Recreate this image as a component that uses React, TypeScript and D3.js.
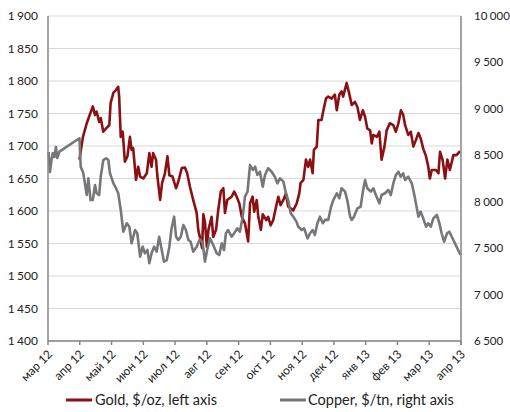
import React from "react";
import * as d3 from "d3";

// month labels (category ticks)
const months = ["мар 12","апр 12","май 12","июн 12","июл 12","авг 12","сен 12","окт 12","ноя 12","дек 12","янв 13","фев 13","мар 13","апр 13"];
const leftTicks = [1400,1450,1500,1550,1600,1650,1700,1750,1800,1850,1900];
const rightTicks = [6500,7000,7500,8000,8500,9000,9500,10000];

// [month position since Mar 2012, value]
const gold: [number, number][] = [
[0.99,1679],[1.10,1714],[1.22,1735],[1.41,1761],[1.48,1748],[1.53,1753],[1.61,1737],[1.66,1743],[1.74,1722],[1.83,1727],[1.93,1732],[1.97,1766],[2.06,1782],[2.14,1786],[2.21,1791],[2.24,1776],[2.29,1714],[2.35,1722],[2.42,1676],[2.50,1684],[2.58,1714],[2.63,1694],[2.68,1697],[2.77,1648],[2.84,1668],[2.90,1653],[3.00,1650],[3.11,1658],[3.19,1689],[3.26,1668],[3.31,1689],[3.40,1679],[3.44,1655],[3.53,1617],[3.59,1643],[3.68,1658],[3.76,1684],[3.82,1655],[3.92,1653],[4.03,1635],[4.10,1645],[4.21,1666],[4.31,1667],[4.38,1658],[4.47,1637],[4.57,1617],[4.68,1597],[4.73,1571],[4.78,1560],[4.85,1543],[4.89,1595],[4.94,1583],[5.00,1545],[5.05,1571],[5.15,1591],[5.20,1560],[5.29,1571],[5.36,1602],[5.44,1630],[5.52,1635],[5.57,1597],[5.64,1617],[5.78,1622],[5.86,1630],[5.94,1622],[6.02,1612],[6.10,1591],[6.20,1581],[6.30,1553],[6.36,1612],[6.44,1622],[6.49,1599],[6.57,1617],[6.62,1591],[6.70,1571],[6.76,1595],[6.87,1586],[6.93,1591],[7.01,1578],[7.09,1586],[7.18,1607],[7.25,1622],[7.32,1609],[7.41,1617],[7.49,1627],[7.56,1607],[7.64,1604],[7.72,1601],[7.83,1612],[7.91,1627],[7.95,1643],[8.04,1648],[8.12,1679],[8.19,1668],[8.25,1679],[8.33,1658],[8.37,1694],[8.46,1699],[8.51,1740],[8.61,1740],[8.67,1755],[8.75,1773],[8.82,1776],[8.93,1773],[9.03,1779],[9.09,1755],[9.17,1779],[9.24,1784],[9.29,1776],[9.40,1797],[9.48,1781],[9.56,1763],[9.66,1768],[9.74,1760],[9.82,1740],[9.91,1755],[9.98,1745],[10.05,1727],[10.14,1724],[10.19,1704],[10.24,1717],[10.35,1714],[10.43,1722],[10.50,1679],[10.59,1699],[10.66,1724],[10.76,1735],[10.87,1732],[10.95,1722],[11.03,1735],[11.11,1755],[11.18,1748],[11.24,1732],[11.34,1717],[11.42,1722],[11.50,1699],[11.58,1709],[11.66,1720],[11.73,1712],[11.81,1696],[11.90,1684],[11.97,1668],[12.02,1650],[12.08,1663],[12.21,1663],[12.29,1658],[12.34,1691],[12.42,1679],[12.50,1650],[12.57,1679],[12.65,1663],[12.76,1686],[12.86,1686],[12.97,1692]
];

const copper: [number, number][] = [
[0.02,8535],[0.06,8320],[0.11,8449],[0.15,8525],[0.20,8482],[0.25,8589],[0.29,8471],[0.36,8539],[0.99,8683],[1.03,8377],[1.11,8309],[1.22,8072],[1.27,8252],[1.34,8018],[1.41,8018],[1.48,8180],[1.53,8091],[1.61,8072],[1.66,8269],[1.74,8449],[1.83,8468],[1.90,8449],[1.95,8306],[2.06,8198],[2.14,8145],[2.21,8091],[2.29,7911],[2.37,7677],[2.48,7768],[2.56,7731],[2.63,7552],[2.74,7695],[2.81,7660],[2.90,7408],[2.98,7516],[3.05,7445],[3.13,7480],[3.19,7337],[3.26,7445],[3.34,7516],[3.42,7462],[3.50,7623],[3.58,7480],[3.65,7354],[3.74,7372],[3.82,7516],[3.89,7714],[3.97,7839],[4.03,7623],[4.10,7588],[4.18,7623],[4.26,7749],[4.34,7695],[4.42,7588],[4.49,7569],[4.57,7462],[4.68,7516],[4.78,7597],[4.87,7555],[4.94,7354],[5.01,7480],[5.10,7606],[5.20,7534],[5.31,7445],[5.39,7426],[5.47,7552],[5.54,7480],[5.60,7660],[5.67,7695],[5.78,7623],[5.86,7660],[5.96,7714],[6.04,7677],[6.13,7839],[6.20,8054],[6.28,8108],[6.36,8395],[6.45,8342],[6.52,8377],[6.59,8288],[6.67,8323],[6.76,8162],[6.83,8288],[6.93,8360],[7.04,8323],[7.14,8269],[7.22,8198],[7.30,8252],[7.41,8216],[7.49,8091],[7.56,8018],[7.64,7875],[7.72,7839],[7.82,7785],[7.88,7731],[7.99,7695],[8.06,7714],[8.17,7606],[8.25,7660],[8.33,7695],[8.40,7642],[8.48,7768],[8.56,7839],[8.65,7768],[8.72,7804],[8.82,7804],[8.91,7946],[8.98,8018],[9.09,8091],[9.17,8037],[9.24,8145],[9.35,8108],[9.42,8018],[9.51,7839],[9.56,7804],[9.63,7839],[9.74,7929],[9.84,7946],[9.92,8126],[9.98,8234],[10.05,8145],[10.16,8108],[10.24,8145],[10.32,8072],[10.43,7983],[10.50,8072],[10.61,8091],[10.71,8126],[10.79,8072],[10.87,8198],[10.95,8288],[11.03,8323],[11.10,8269],[11.18,8306],[11.24,8234],[11.34,8269],[11.45,8198],[11.52,8091],[11.58,7983],[11.66,7839],[11.73,7893],[11.81,7821],[11.90,7731],[11.97,7768],[12.05,7731],[12.13,7821],[12.24,7857],[12.32,7768],[12.39,7660],[12.47,7569],[12.56,7660],[12.63,7677],[12.71,7623],[12.81,7552],[12.91,7480],[12.99,7426]
];

const GOLD_COLOR = "#8b1014";
const COPPER_COLOR = "#76777b";
const FONT = "Lato, 'Open Sans', sans-serif";

// split a number into thousands group and remainder, rendered with a narrow gap
const parts = (v: number) => {
  const s = d3.format(",")(v).split(",");
  return s;
};

const Num = ({ v }: { v: number }) => {
  const p = parts(v);
  return (
    <>
      {p.map((s, i) => (
        <tspan key={i} dx={i === 0 ? 0 : 2.5}>{s}</tspan>
      ))}
    </>
  );
};

export default function App() {
  const W = 510, H = 412;
  const left = 48, right = 461, top = 16, bottom = 341;
  const x = d3.scaleLinear().domain([0, months.length - 1]).range([left, right]);
  const yL = d3.scaleLinear().domain([1400, 1900]).range([bottom, top]);
  const yR = d3.scaleLinear().domain([6500, 10000]).range([bottom, top]);
  const goldLine = d3.line<[number, number]>().x(d => x(d[0])).y(d => yL(d[1]));
  const copperLine = d3.line<[number, number]>().x(d => x(d[0])).y(d => yR(d[1]));

  return (
    <svg width={W} height={H} style={{ position: "absolute", left: 0, top: 0, background: "#fff" }} fontFamily={FONT}>
      {leftTicks.map(v => (
        <line key={"g" + v} x1={left} x2={right} y1={yL(v)} y2={yL(v)} stroke="#d9d9d9" strokeWidth={1} />
      ))}
      {leftTicks.map(v => (
        <text key={"l" + v} x={38} y={yL(v) + 4} textAnchor="end" fontSize={12} fill="#222">
          <Num v={v} />
        </text>
      ))}
      {rightTicks.map(v => (
        <text key={"r" + v} x={474} y={yR(v) + 4} textAnchor="start" fontSize={11.5} fill="#222">
          <Num v={v} />
        </text>
      ))}
      <path d={goldLine(gold) || ""} fill="none" stroke={GOLD_COLOR} strokeWidth={2.6} strokeLinejoin="round" />
      <path d={copperLine(copper) || ""} fill="none" stroke={COPPER_COLOR} strokeWidth={2.6} strokeLinejoin="round" />
      <line x1={left} x2={left} y1={top} y2={bottom} stroke="#868686" strokeWidth={1.5} />
      <line x1={right} x2={right} y1={top} y2={bottom + 4} stroke="#868686" strokeWidth={1.5} />
      <line x1={left} x2={right} y1={bottom} y2={bottom} stroke="#868686" strokeWidth={1.5} />
      {months.map((m, i) => (
        <g key={m}>
          <line x1={x(i)} x2={x(i)} y1={bottom} y2={bottom + 4} stroke="#868686" strokeWidth={1.5} />
          <text transform={`translate(${x(i) + 5},${bottom + 14}) rotate(-45)`} textAnchor="end" fontSize={12} fill="#222">
            {m}
          </text>
        </g>
      ))}
      <line x1={66} x2={92} y1={400} y2={400} stroke={GOLD_COLOR} strokeWidth={3} />
      <text x={95} y={405} fontSize={14.5} fill="#222">Gold, $/oz, left axis</text>
      <line x1={280} x2={306} y1={400} y2={400} stroke={COPPER_COLOR} strokeWidth={3} />
      <text x={308} y={405} fontSize={14.5} fill="#222">Copper, $/tn, right axis</text>
    </svg>
  );
}
